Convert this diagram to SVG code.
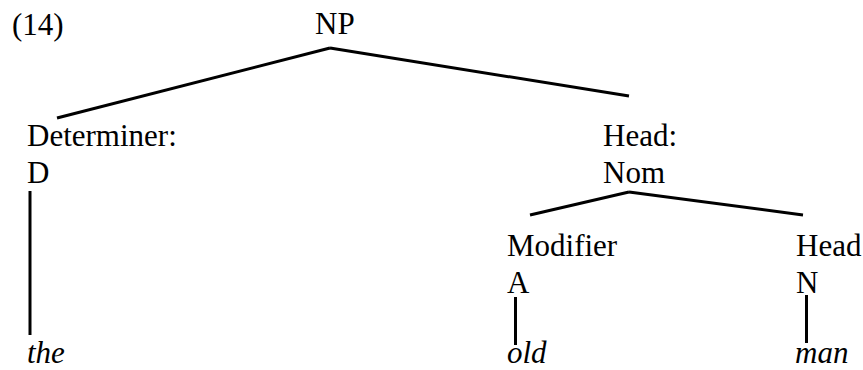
<svg xmlns="http://www.w3.org/2000/svg" width="863" height="370" viewBox="0 0 863 370">
<style>
text{font-family:"Liberation Serif","Times New Roman",serif;font-size:31px;fill:#000}
.it{font-style:italic}
line{stroke:#000;stroke-width:3;stroke-linecap:butt}
</style>
<rect width="863" height="370" fill="#fff"/>
<g id="label14"><text x="12" y="35">(14)</text></g>
<g id="np"><text x="315" y="34">NP</text></g>
<g id="det"><text x="27" y="146">Determiner:</text><text x="27" y="183">D</text></g>
<g id="head"><text x="603" y="146">Head:</text><text x="603" y="183">Nom</text></g>
<g id="mod"><text x="507" y="256">Modifier</text><text x="507" y="293">A</text></g>
<g id="headn"><text x="796" y="256">Head</text><text x="796" y="293">N</text></g>
<g id="the"><text class="it" x="27" y="363">the</text></g>
<g id="old"><text class="it" x="507" y="363">old</text></g>
<g id="man"><text class="it" x="795" y="363">man</text></g>
<g id="connectors">
<line x1="330" y1="48" x2="57" y2="118"/>
<line x1="330" y1="48" x2="629" y2="96"/>
<line x1="30" y1="191" x2="30" y2="335"/>
<line x1="629" y1="192" x2="530" y2="215"/>
<line x1="629" y1="192" x2="803" y2="215"/>
<line x1="515.5" y1="297" x2="515.5" y2="345"/>
<line x1="806.5" y1="295" x2="806.5" y2="343"/>
</g>
</svg>
